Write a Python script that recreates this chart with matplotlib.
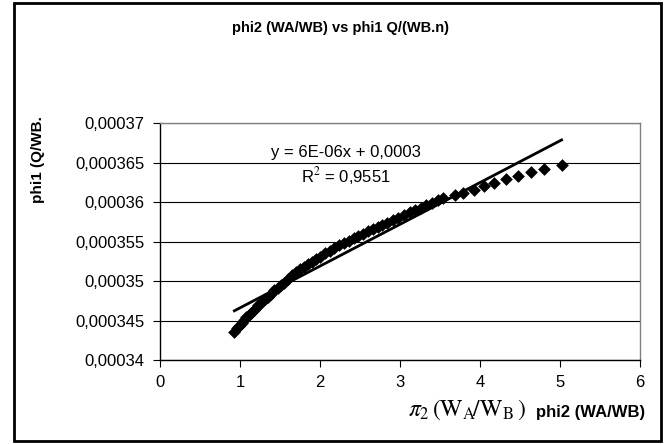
import numpy as np
import matplotlib
matplotlib.use("Agg")
import matplotlib.pyplot as plt
from matplotlib.patches import Rectangle
from matplotlib.ticker import FuncFormatter

plt.rcParams['font.family'] = ['Liberation Sans', 'DejaVu Sans']
plt.rcParams['mathtext.fontset'] = 'stix'

# phi2 (WA/WB) values
phi2 = [0.93, 0.96, 0.99, 1.02, 1.05, 1.08, 1.11, 1.14, 1.17, 1.20,
        1.23, 1.27, 1.31, 1.35, 1.39, 1.43, 1.47, 1.51, 1.55, 1.60,
        1.65, 1.70, 1.75, 1.80, 1.85, 1.90, 1.95, 2.00, 2.06, 2.12,
        2.18, 2.24, 2.30, 2.36, 2.42, 2.48, 2.54, 2.60, 2.66, 2.72,
        2.78, 2.84, 2.91, 2.98, 3.05, 3.12, 3.19, 3.26, 3.33, 3.40,
        3.47, 3.54, 3.69, 3.79, 3.92, 4.05, 4.18, 4.33, 4.47, 4.64,
        4.80, 5.02]
# phi1 Q/(WB.n) values, in units of 1e-4
phi1_e4 = [3.436, 3.440, 3.443, 3.447, 3.450, 3.454, 3.457, 3.460, 3.463, 3.466,
           3.469, 3.473, 3.477, 3.480, 3.484, 3.488, 3.491, 3.495, 3.498, 3.503,
           3.507, 3.511, 3.515, 3.518, 3.521, 3.524, 3.528, 3.531, 3.535, 3.538,
           3.542, 3.545, 3.548, 3.551, 3.554, 3.557, 3.560, 3.563, 3.566, 3.568,
           3.571, 3.574, 3.577, 3.580, 3.583, 3.587, 3.590, 3.593, 3.596, 3.599,
           3.602, 3.605, 3.609, 3.611, 3.615, 3.620, 3.624, 3.629, 3.633, 3.638,
           3.642, 3.647]

x_ticks = [0, 1, 2, 3, 4, 5, 6]
y_ticks = [0.00034, 0.000345, 0.00035, 0.000355, 0.00036, 0.000365, 0.00037]

x = np.array(phi2)
y = np.array(phi1_e4) * 1e-4

# linear trendline (as Excel does)
slope, intercept = np.polyfit(x, y, 1)
xl = np.array([x.min(), x.max()])

fig = plt.figure(figsize=(6.68, 4.44), dpi=100)
ax = fig.add_axes([160 / 668, 84 / 444, 480 / 668, 237 / 444])

ax.set_axisbelow(True)
ax.grid(axis='y', color='black', linewidth=0.8)
ax.scatter(x, y, marker='D', s=42, color='black', zorder=3, linewidths=0)
ax.plot(xl, slope * xl + intercept, color='black', linewidth=2, zorder=4)

ax.set_xlim(0, 6)
ax.set_ylim(0.00034, 0.00037)
ax.set_xticks(x_ticks)
ax.set_yticks(y_ticks)
ax.yaxis.set_major_formatter(FuncFormatter(
    lambda v, p: f"{v:.6f}".rstrip('0').replace('.', ',')))
ax.tick_params(axis='both', labelsize=12, direction='out', length=5,
               width=0.8, pad=6)

for s in ['left', 'bottom']:
    ax.spines[s].set_color('black')
    ax.spines[s].set_linewidth(1)
for s in ['top', 'right']:
    ax.spines[s].set_color('#808080')
    ax.spines[s].set_linewidth(1)

fig.text(346 / 668, 1 - 153 / 444, "y = 6E-06x + 0,0003", fontsize=12,
         ha='center', va='center')
fig.text(346 / 668, 1 - 176 / 444, "R$^2$ = 0,9551", fontsize=12,
         ha='center', va='center')

fig.text(340 / 668, 1 - 28 / 444, "phi2 (WA/WB) vs phi1 Q/(WB.n)",
         fontsize=10.5, fontweight='bold', ha='center', va='center')
fig.text(38 / 668, 1 - 160 / 444, "phi1 (Q/WB.", fontsize=11,
         fontweight='bold', rotation=90, ha='center', va='center')
fig.text(467 / 668, 1 - 410 / 444,
         r"$\pi_2\,(\mathrm{W_A}\!/\mathrm{W_B}\,)$",
         fontsize=17, ha='center', va='center')
fig.text(591 / 668, 1 - 412 / 444, "phi2 (WA/WB)", fontsize=12,
         fontweight='bold', ha='center', va='center')

fig.patches.append(Rectangle((14 / 668, 3 / 444), 647 / 668, 438 / 444,
                             transform=fig.transFigure, fill=False,
                             edgecolor='black', linewidth=2))

fig.savefig("out.png", dpi=100)
